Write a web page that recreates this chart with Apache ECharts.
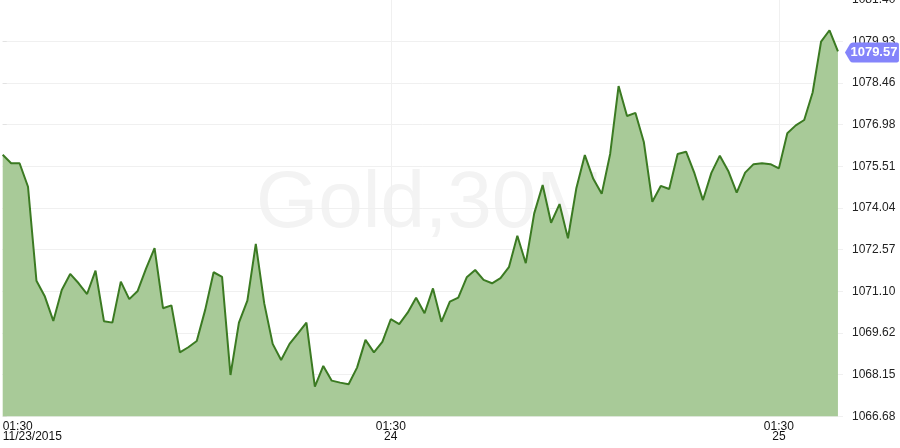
<!DOCTYPE html>
<html>
<head>
<meta charset="utf-8">
<script src="https://cdn.jsdelivr.net/npm/echarts@6/dist/echarts.min.js"></script>
<style>
html,body{margin:0;padding:0;background:#fff;}
#chart{width:900px;height:448px;}
</style>
</head>
<body>
<div id="chart"></div>
<script>
// Gold 30M close prices, 23-25 Nov 2015 (one per 30-minute bar)
const prices = [
  1075.92, 1075.62, 1075.62, 1074.79, 1071.47, 1070.91, 1070.05, 1071.14, 1071.71, 1071.38,
  1071.00, 1071.83, 1070.04, 1069.99, 1071.44, 1070.82, 1071.11, 1071.91, 1072.62, 1070.50,
  1070.60, 1068.94, 1069.12, 1069.34, 1070.44, 1071.77, 1071.61, 1068.14, 1069.99, 1070.77,
  1072.77, 1070.67, 1069.24, 1068.67, 1069.24, 1069.61, 1069.99, 1067.73, 1068.46, 1067.94,
  1067.87, 1067.81, 1068.40, 1069.38, 1068.94, 1069.31, 1070.11, 1069.94, 1070.34, 1070.87,
  1070.32, 1071.20, 1070.02, 1070.73, 1070.87, 1071.59, 1071.85, 1071.50, 1071.38, 1071.56,
  1071.95, 1073.06, 1072.09, 1073.85, 1074.85, 1073.52, 1074.18, 1072.97, 1074.75, 1075.91,
  1075.07, 1074.54, 1075.95, 1078.35, 1077.29, 1077.40, 1076.36, 1074.26, 1074.82, 1074.71,
  1075.95, 1076.03, 1075.26, 1074.32, 1075.28, 1075.89, 1075.35, 1074.58, 1075.29, 1075.59,
  1075.62, 1075.59, 1075.44, 1076.68, 1076.96, 1077.15, 1078.12, 1079.92, 1080.32, 1079.57
];
// x-axis ticks (bar index) and their labels
const xTickIndex = [0, 46, 92];
const xTickText = ['01:30\n11/23/2015', '01:30\n24', '01:30\n25'];
// y-axis ticks
const yTicks = [1066.68, 1068.15, 1069.62, 1071.10, 1072.57, 1074.04, 1075.51, 1076.98, 1078.46, 1079.93, 1081.40];
const yMin = 1066.68, yMax = 1081.40, yStep = 1.472;
const lastPrice = prices[prices.length - 1];
const title = 'Gold,30M';

const chart = echarts.init(document.getElementById('chart'), null, {renderer: 'canvas'});
const font = 'Arial, "Liberation Sans", sans-serif';

chart.setOption({
  animation: false,
  backgroundColor: '#ffffff',
  graphic: [{
    type: 'text',
    left: 430 - 174, top: 180 - 15,
    z: -10,
    silent: true,
    style: {
      text: title,
      font: '80px ' + font,
      fill: '#f3f3f3'
    }
  }],
  grid: {left: 2.7, right: 57, top: -0.3, bottom: 31.7, containLabel: false, outerBoundsMode: 'none'},
  xAxis: {
    type: 'value',
    min: 0,
    max: 99.6,
    interval: 46,
    axisLine: {show: false},
    axisTick: {show: false},
    splitLine: {show: true, showMinLine: false, showMaxLine: false, lineStyle: {color: '#f0f0f0', width: 1}},
    axisLabel: {
      margin: 5,
      color: '#111',
      fontSize: 12,
      lineHeight: 10,
      fontFamily: font,
      alignMinLabel: 'left',
      showMaxLabel: false,
      formatter: function (v) {
        const k = xTickIndex.indexOf(Math.round(v));
        return (k >= 0 && Math.abs(v - xTickIndex[k]) < 1e-6) ? xTickText[k] : '';
      }
    }
  },
  yAxis: {
    type: 'value',
    position: 'right',
    min: yMin,
    max: yMax,
    interval: yStep,
    axisLine: {show: false},
    axisTick: {show: true, length: 4, lineStyle: {color: '#e2e2e2'}},
    splitLine: {show: true, lineStyle: {color: '#f0f0f0', width: 1}},
    axisLabel: {
      margin: 9,
      color: '#222',
      fontSize: 12,
      fontFamily: font,
      formatter: function (v) {
        let best = yTicks[0];
        yTicks.forEach(t => { if (Math.abs(t - v) < Math.abs(best - v)) best = t; });
        return best.toFixed(2);
      }
    }
  },
  series: [{
    type: 'line',
    data: prices.map((v, i) => [i, v]),
    showSymbol: false,
    symbol: 'none',
    lineStyle: {color: '#3b7a22', width: 2},
    areaStyle: {color: '#a8ca98', opacity: 1},
    z: 3,
    markPoint: {
      silent: true,
      symbol: 'path://M0,10 L5,1.5 Q6,0 8,0 L52,0 Q54,0 54,2 L54,18 Q54,20 52,20 L8,20 Q6,20 5,18.5 Z',
      symbolSize: [54, 20],
      symbolKeepAspect: false,
      symbolOffset: [34, 1],
      itemStyle: {color: '#8484fb'},
      label: {
        show: true,
        position: 'inside',
        offset: [2, 0],
        color: '#ffffff',
        fontWeight: 'bold',
        fontSize: 13,
        fontFamily: font,
        formatter: function (p) { return p.value.toFixed(2); }
      },
      data: [{coord: [prices.length - 1, lastPrice], value: lastPrice}]
    }
  }]
});
</script>
</body>
</html>
